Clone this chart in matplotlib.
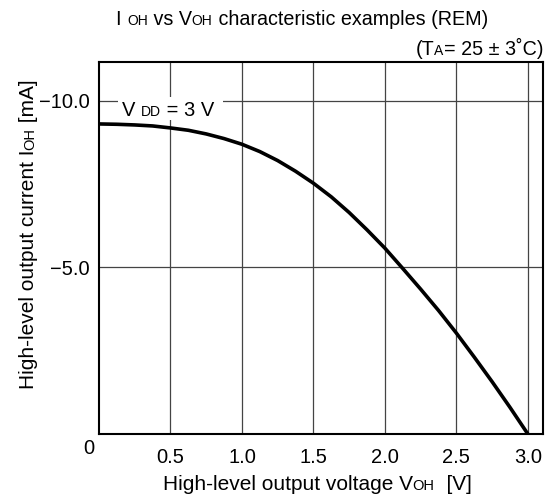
import matplotlib
matplotlib.use("Agg")
import matplotlib.pyplot as plt
from matplotlib.patches import Rectangle

plt.rcParams['font.family'] = ['Liberation Sans', 'DejaVu Sans']

voltage = [0.0, 0.125, 0.25, 0.375, 0.5, 0.625, 0.75, 0.875, 1.0, 1.125, 1.25, 1.375,
           1.5, 1.625, 1.75, 1.875, 2.0, 2.125, 2.25, 2.375, 2.5, 2.625, 2.75, 2.875, 3.0]
current = [-9.31, -9.30, -9.28, -9.25, -9.19, -9.12, -9.01, -8.87, -8.70, -8.48, -8.21, -7.89,
           -7.53, -7.12, -6.65, -6.13, -5.58, -4.97, -4.35, -3.71, -3.03, -2.31, -1.57, -0.80, 0.0]
x_ticks = [0.5, 1.0, 1.5, 2.0, 2.5, 3.0]
x_labels = ['0.5', '1.0', '1.5', '2.0', '2.5', '3.0']
y_ticks = [-5.0, -10.0]
y_labels = ['\u22125.0', '\u221210.0']

W, H = 550, 504
fig = plt.figure(figsize=(W / 100, H / 100), dpi=100)
ax = fig.add_axes([99 / W, (H - 434) / H, (543 - 99) / W, (434 - 62) / H])

ax.plot(voltage, current, color='black', lw=2.6, solid_capstyle='butt',
        solid_joinstyle='round', zorder=3)
ax.set_xlim(0, 3.106)
ax.set_ylim(0, -11.17)

tick_fs = 14.5
ax.set_xticks(x_ticks)
ax.set_xticklabels(x_labels, fontsize=tick_fs)
ax.set_yticks(y_ticks)
ax.set_yticklabels(y_labels, fontsize=tick_fs)
ax.tick_params(axis='x', length=0, pad=10)
ax.tick_params(axis='y', length=0, pad=7)
ax.grid(True, color='#444444', lw=0.9)
for s in ax.spines.values():
    s.set_linewidth(1.5)
    s.set_color('black')

fig.canvas.draw()
renderer = fig.canvas.get_renderer()


def draw_pieces(pieces, x_px, y_px, ha='center', rotation=0, zorder=3):
    """pieces: list of (text, size). position in image pixel coords (y from top), baseline."""
    texts = []
    widths = []
    for s, size in pieces:
        t = fig.text(0, 0, s, fontsize=size, ha='left', va='baseline',
                     rotation=rotation, rotation_mode='anchor', zorder=zorder)
        bb = t.get_window_extent(renderer)
        widths.append(bb.height if rotation == 90 else bb.width)
        texts.append(t)
    total = sum(widths)
    if ha == 'center':
        start = -total / 2
    elif ha == 'right':
        start = -total
    else:
        start = 0
    pos = start
    yd = H - y_px
    for t, w in zip(texts, widths):
        if rotation == 90:
            t.set_position((x_px / W, (yd + pos) / H))
        else:
            t.set_position(((x_px + pos) / W, yd / H))
        pos += w
    return texts


main, sub = 14.2, 10
draw_pieces([('I ', main), ('OH', sub), (' vs V', main), ('OH', sub),
             (' characteristic examples (REM)', main)], 302, 25)
draw_pieces([('(T', main), ('A', sub), ('= 25 \u00b1 3\u02daC)', main)], 543, 55, ha='right')

lab, lsub = 15, 10.5
draw_pieces([('High-level output voltage V', lab), ('OH', lsub), ('  [V]', lab)], 317, 490)
draw_pieces([('High-level output current I', lab), ('OH', lsub), (' [mA]', lab)], 34, 234,
            rotation=90)

# V_DD label on a white patch covering the grid lines
fig.patches.append(Rectangle((118 / W, (H - 120) / H), (223 - 118) / W, (120 - 97) / H,
                             transform=fig.transFigure, facecolor='white',
                             edgecolor='none', zorder=2))
draw_pieces([('V ', 14.5), ('DD', 10), (' = 3 V', 14.5)], 122, 116, ha='left', zorder=4)

fig.text(89 / W, (H - 448) / H, '0', fontsize=tick_fs, ha='center', va='center')

fig.savefig('out.png', dpi=100)
